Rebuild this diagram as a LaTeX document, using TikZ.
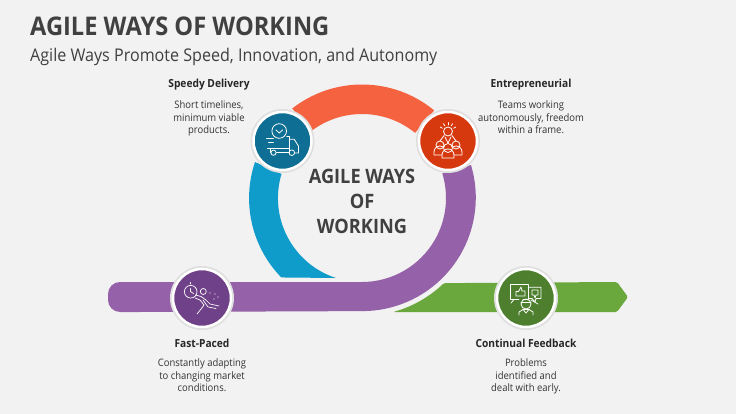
\documentclass[tikz,border=0pt]{standalone}
\usepackage{fontspec}
\setmainfont{Open Sans}[FakeStretch=0.92]
\definecolor{pagegray}{HTML}{F2F2F2}
\definecolor{inkgray}{HTML}{404040}
\definecolor{arcorange}{HTML}{F4623F}
\definecolor{arcblue}{HTML}{0F9CCB}
\definecolor{arcpurple}{HTML}{9561A8}
\definecolor{arcgreen}{HTML}{6AA83E}
\definecolor{deepblue}{HTML}{0F6E93}
\definecolor{deepred}{HTML}{D7390F}
\definecolor{deeppurple}{HTML}{6F4188}
\definecolor{deepgreen}{HTML}{4E7F2E}
\tikzset{
	badge/.style={circle, minimum size=58pt, inner sep=0pt, draw=white, line width=2.5pt},
	halo/.style={circle, minimum size=64pt, inner sep=0pt, fill=gray!25},
	headtext/.style={font=\fontsize{11.1}{12.5}\selectfont\bfseries, text=black!85, anchor=center},
	bodytext/.style={font=\fontsize{10.3}{12.8}\selectfont, text=black!80, align=center, anchor=north},
	iconline/.style={draw=white, line width=.8pt, line join=round, line cap=round}
}
\begin{document}
\begin{tikzpicture}[x=1pt, y=1pt]
	\useasboundingbox (0,-414) rectangle (736,0);
	\fill[pagegray] (0,-414) rectangle (736,0);
	% title
	\node[anchor=west, inkgray, inner sep=0pt, font=\fontsize{25.7}{28}\selectfont\bfseries] (title) at (30,-26) {AGILE WAYS OF WORKING};
	\node[anchor=west, inkgray, inner sep=0pt, font=\fontsize{17.5}{19}\selectfont] (subtitle) at (30,-57) {Agile Ways Promote Speed, Innovation, and Autonomy};
	% ring and arrow, centre (362,-198)
	\coordinate (ring) at (362,-198);
	\fill[arcgreen, rounded corners=1.5pt] (393,-312) arc (-74.8:-46:117.5) -- (617,-282) -- (628,-297) -- (617,-312) -- cycle;
	\fill[arcorange] ([shift={(128:113.5)}]ring) arc (128:50.5:113.5) -- ([shift={(50.8:84)}]ring) arc (50.8:126:84) -- cycle;
	\fill[arcblue] (255,-162) arc (161.4:224.3:113.5) -- (336,-278) arc (252:163.3:84) -- cycle;
	\fill[arcpurple, rounded corners=12pt] (140,-312) -- (108,-312) -- (108,-282) -- (140,-282) [sharp corners] -- (362,-282) arc (-90:17:84) -- (471,-165) arc (16.7:-90:113.5) -- cycle;
	% badges
	\node[halo] at (282.5,-141) {};
	\node[badge, fill=deepblue] (truck) at (282.5,-141) {};
	\node[halo] at (448,-141) {};
	\node[badge, fill=deepred] (people) at (448,-141) {};
	\node[halo] at (202,-298) {};
	\node[badge, fill=deeppurple] (runner) at (202,-298) {};
	\node[halo] at (526,-298) {};
	\node[badge, fill=deepgreen] (feedback) at (526,-298) {};
	% truck icon
	\begin{scope}[shift={(truck)}, iconline]
		\draw (-3.3,10) circle (7.3);
		\draw (-6.5,11) -- (-3.3,8) -- (0,11);
		\draw (4.3,4.3) -- (7,4.3) -- (7,-11.7);
		\draw (7,1.7) -- (11.7,1.7) -- (16,-5) -- (16,-12) -- (12.5,-12);
		\draw (-9,-11.7) circle (2.6);
		\draw (9.3,-11.7) circle (2.8);
		\draw (-6,-11.7) -- (6.5,-11.7);
		\draw (-15,-7.5) -- (7,-7.5);
		\draw (-12.5,-7.5) -- (-12.5,-11.7);
		\draw (-16,3) -- (-9,3);
		\draw (-14,-1) -- (-9,-1);
	\end{scope}
	% people icon
	\begin{scope}[shift={(people)}, iconline]
		\draw (0,9.5) circle (4.5);
		\foreach \a in {30,60,90,120,150}
			\draw ([shift={(\a:6.5)}]0,9.5) -- ([shift={(\a:9)}]0,9.5);
		\draw (-8,-4) circle (4);
		\draw (8,-4) circle (4);
		\draw (0,-7) circle (4.5);
		\draw (-4,5.5) -- (-8,0);
		\draw (4,5.5) -- (8,0);
		\draw (-3,4) -- (0,-2) -- (3,4);
		\draw (-6,-17) -- (-6,-14) arc (180:0:6) -- (6,-17) -- cycle;
		\draw (-6,-14) -- (-14,-14) -- (-14,-11) arc (180:60:6);
		\draw (6,-14) -- (14,-14) -- (14,-11) arc (0:120:6);
	\end{scope}
	% runner icon
	\begin{scope}[shift={(runner)}, iconline, line width=.7pt]
		\draw (-11.3,6.3) circle (6.3);
		\draw (-11.3,6.3) -- (-11.3,9.5);
		\draw (-11.3,6.3) -- (-8.5,4.5);
		\draw (-11.3,14) -- (-11.3,15.5);
		\draw (1.3,6.5) circle (3);
		\draw (-6.5,3) -- (-1,1.5) -- (4,-2) -- (8,-6) -- (17,-8);
		\draw (-7,0) -- (-2,-2) -- (2,-7) -- (-1,-11) -- (-5,-16);
		\draw (1,-2) -- (6,-9) -- (14,-10.5);
		\foreach \p in {(8,5),(13,4),(16,1),(12,-1)}
			\fill[white] \p circle (.7);
	\end{scope}
	% feedback icon
	\begin{scope}[shift={(feedback)}, iconline]
		\draw (-7,-1.5) -- (-16,-1.5) -- (-16,14) -- (2.3,14) -- (2.3,-1.5) -- (-3,-1.5);
		\draw (-12,-1.5) -- (-15,-5);
		\draw (2.3,10.7) -- (15,10.7) -- (15,-.5) -- (10,-.5) -- (9,-4) -- (6,-.5) -- (2.3,-.5);
		\draw (-10,2) -- (-10,6.5) -- (-7.5,6.5) -- (-5,11) -- (-4,7) -- (-1,7) -- (-1,2) -- cycle;
		\draw (6,8) -- (12,8) -- (12,3) -- (10,3) -- (9,0) -- (8,3) -- (6,3) -- cycle;
		\draw (0,-6) circle (5);
		\draw (-5,-4.5) -- (5,-4.5);
		\draw (-7,-17) -- (-7,-14) -- (-3,-11.5) -- (3,-11.5) -- (7,-14) -- (7,-17);
		\draw (-3,-11.5) -- (0,-15) -- (3,-11.5);
		\draw (5,-2) -- (12,-6);
	\end{scope}
	% centre text
	\node[align=center, inkgray, font=\fontsize{19.8}{25}\selectfont\bfseries] (agile) at (362,-201) {AGILE WAYS\\OF\\WORKING};
	% labels
	\node[headtext] (speedy) at (209,-85) {Speedy Delivery};
	\node[bodytext] (speedytxt) at (209,-97) {Short timelines,\\minimum viable\\products.};
	\node[headtext] (entre) at (531,-85) {Entrepreneurial};
	\node[bodytext] (entretxt) at (531,-97) {Teams working\\autonomously, freedom\\within a frame.};
	\node[headtext] (fast) at (202,-343) {Fast-Paced};
	\node[bodytext] (fasttxt) at (202,-355) {Constantly adapting\\to changing market\\conditions.};
	\node[headtext] (cont) at (526,-343) {Continual Feedback};
	\node[bodytext] (conttxt) at (526,-355) {Problems\\identified and\\dealt with early.};
\end{tikzpicture}
\end{document}
